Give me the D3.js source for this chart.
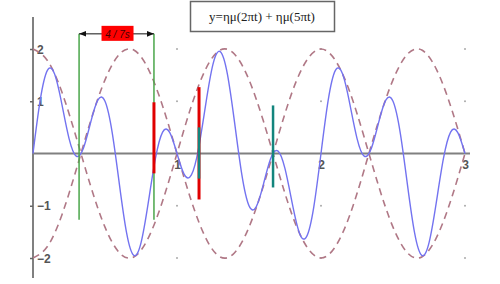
<!DOCTYPE html>
<html>
<head>
<meta charset="utf-8">
<script src="https://cdn.jsdelivr.net/npm/d3@7"></script>
<style>
  body { margin: 0; background: #fff; }
  svg { display: block; }
</style>
</head>
<body>
<div id="chart"></div>
<script>
// time samples (s) and values
const tBlue = d3.range(0, 61).map(k => k / 20);
const yBlue = [
  0, 1.02, 1.59, 1.52, 0.95, 0.29, -0.05, 0.10, 0.59, 1.02,
  1.00, 0.40, -0.59, -1.52, -1.95, -1.71, -0.95, -0.10, 0.41, 0.40,
  0, -0.40, -0.41, 0.10, 0.95, 1.71, 1.95, 1.52, 0.59, -0.40,
  -1.00, -1.02, -0.59, -0.10, 0.05, -0.29, -0.95, -1.52, -1.59, -1.02,
  0, 1.02, 1.59, 1.52, 0.95, 0.29, -0.05, 0.10, 0.59, 1.02,
  1.00, 0.40, -0.59, -1.52, -1.95, -1.71, -0.95, -0.10, 0.41, 0.40,
  0
];
const tEnv = d3.range(0, 31).map(k => k / 10);
const yEnvUp = [
  2, 1.78, 1.18, 0.31, -0.62, -1.41, -1.90, -1.98, -1.62, -0.91,
  0, 0.91, 1.62, 1.98, 1.90, 1.41, 0.62, -0.31, -1.18, -1.78,
  -2, -1.78, -1.18, -0.31, 0.62, 1.41, 1.90, 1.98, 1.62, 0.91,
  0
];
const yEnvDown = yEnvUp.map(v => -v);

const yTicks = [-2, -1, 1, 2];
const xTicks = [1, 2, 3];
const yTickLabels = ["\u22122", "\u22121", "1", "2"];
const xTickLabels = ["1", "2", "3"];

// markers: [t, yTop, yBottom]
const greenLines = [[0.32, 2.29, -1.27], [0.84, 2.29, -1.27]];
const redLines = [[0.84, 0.98, -0.38], [1.153, 1.27, -0.88]];
const tealLines = [[1.153, 0.50, -0.48], [1.667, 0.92, -0.65]];
const periodLabel = "4 / 7s";
const title = "y=\u03b7\u03bc(2\u03c0t) + \u03b7\u03bc(5\u03c0t)";

const width = 500, height = 284;

const svg = d3.select("#chart").append("svg")
  .attr("width", width)
  .attr("height", height);

const x = d3.scaleLinear().domain([0, 3]).range([33, 465]);
const y = d3.scaleLinear().domain([-2, 2]).range([258, 49]);

// faint grid dots
const dots = [];
xTicks.forEach(a => yTicks.forEach(b => dots.push([a, b])));
svg.selectAll("circle.dot").data(dots).enter().append("circle")
  .attr("cx", d => x(d[0]))
  .attr("cy", d => y(d[1]))
  .attr("r", 1)
  .style("fill", "#aaa");

// axes
svg.append("line")
  .attr("x1", x(0)).attr("x2", x(0))
  .attr("y1", 17).attr("y2", 278)
  .style("stroke", "#808080").style("stroke-width", 2);
svg.append("line")
  .attr("x1", x(0)).attr("x2", 470)
  .attr("y1", y(0)).attr("y2", y(0))
  .style("stroke", "#808080").style("stroke-width", 2);

let yAxis = svg.append("g")
  .attr("transform", "translate(" + x(0) + ",0)")
  .call(d3.axisLeft(y).tickValues(yTicks).tickSize(3)
    .tickFormat((d, i) => yTickLabels[i]));
yAxis.select(".domain").remove();
yAxis.selectAll(".tick line").style("stroke", "#666").style("stroke-width", 1.5);
yAxis.selectAll(".tick text")
  .attr("x", 4).attr("dy", "0.35em")
  .style("text-anchor", "start")
  .style("font", "bold 12px 'Liberation Sans', Arial, sans-serif")
  .style("fill", "#555");

let xAxis = svg.append("g")
  .attr("transform", "translate(0," + y(0) + ")")
  .call(d3.axisBottom(x).tickValues(xTicks).tickSize(0)
    .tickFormat((d, i) => xTickLabels[i]));
xAxis.select(".domain").remove();
xAxis.selectAll(".tick text")
  .attr("y", 7)
  .style("font", "bold 12px 'Liberation Sans', Arial, sans-serif")
  .style("fill", "#555");

// envelopes
let env = d3.line().x(d => x(d[0])).y(d => y(d[1])).curve(d3.curveNatural);
[yEnvUp, yEnvDown].forEach(vals => {
  svg.append("path")
    .datum(tEnv.map((t, i) => [t, vals[i]]))
    .attr("d", env)
    .style("fill", "none")
    .style("stroke", "#b07886")
    .style("stroke-width", 1.6)
    .style("stroke-dasharray", "7,5");
});

// signal
svg.append("path")
  .datum(tBlue.map((t, i) => [t, yBlue[i]]))
  .attr("d", env)
  .style("fill", "none")
  .style("stroke", "#7373f0")
  .style("stroke-width", 1.4);

// vertical markers
function vlines(data, color, w) {
  svg.selectAll(null).data(data).enter().append("line")
    .attr("x1", d => x(d[0])).attr("x2", d => x(d[0]))
    .attr("y1", d => y(d[1])).attr("y2", d => y(d[2]))
    .style("stroke", color).style("stroke-width", w);
}
vlines(greenLines, "#4aa64a", 1.5);
vlines(redLines, "#e00000", 3);
vlines(tealLines, "#13857d", 2.5);

// period arrow
let defs = svg.append("defs");
defs.append("marker")
  .attr("id", "arr")
  .attr("viewBox", "0 0 10 10")
  .attr("refX", 10).attr("refY", 5)
  .attr("markerWidth", 7).attr("markerHeight", 7)
  .attr("orient", "auto-start-reverse")
  .append("path").attr("d", "M0,1L10,5L0,9Z").style("fill", "#111");
let ay = y(greenLines[0][1]);
svg.append("line")
  .attr("x1", x(greenLines[0][0])).attr("x2", x(greenLines[1][0]))
  .attr("y1", ay).attr("y2", ay)
  .attr("marker-start", "url(#arr)")
  .attr("marker-end", "url(#arr)")
  .style("stroke", "#111").style("stroke-width", 1);
let mid = (x(greenLines[0][0]) + x(greenLines[1][0])) / 2 + 1;
svg.append("rect")
  .attr("x", mid - 16).attr("y", ay - 8)
  .attr("width", 32).attr("height", 15)
  .style("fill", "#f00");
svg.append("text")
  .attr("x", mid).attr("y", ay + 4)
  .attr("text-anchor", "middle")
  .style("font", "italic 10px 'Liberation Sans', Arial, sans-serif")
  .style("fill", "#400")
  .text(periodLabel);

// title box
svg.append("rect")
  .attr("x", 190.5).attr("y", 1.5)
  .attr("width", 144).attr("height", 30)
  .style("fill", "#fff")
  .style("stroke", "#666").style("stroke-width", 1.5);
svg.append("text")
  .attr("x", 262).attr("y", 21)
  .attr("text-anchor", "middle")
  .style("font", "13px 'Liberation Serif', 'Times New Roman', serif")
  .style("fill", "#222")
  .text(title);
</script>
</body>
</html>
